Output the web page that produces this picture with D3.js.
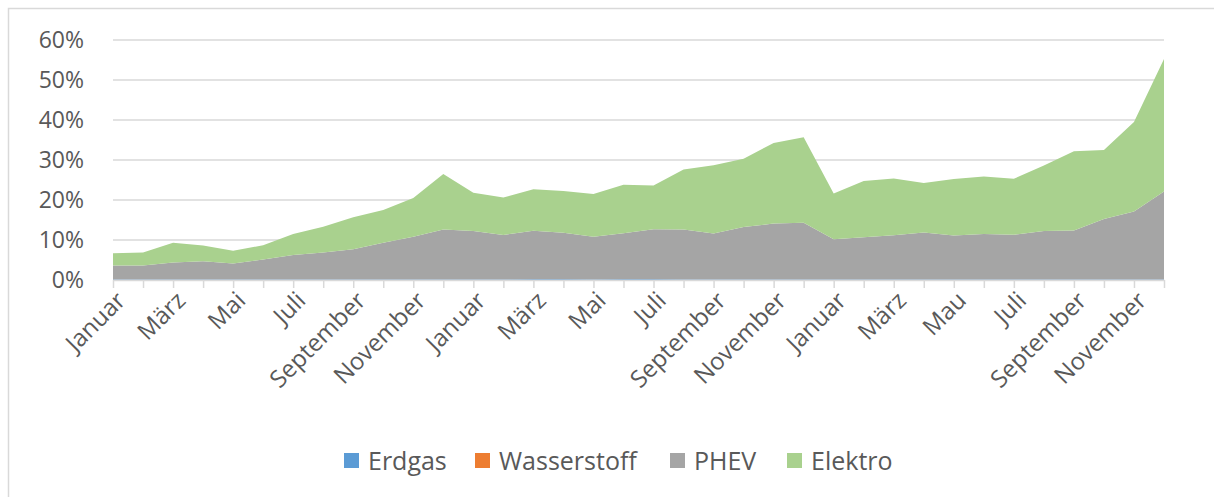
<!DOCTYPE html>
<html>
<head>
<meta charset="utf-8">
<script src="https://cdn.jsdelivr.net/npm/d3@7"></script>
<style>
  body { margin: 0; background: #fff; }
  svg text { font-family: "Open Sans", sans-serif; fill: #595959; }
</style>
</head>
<body>
<div id="chart"></div>
<script>
const months = [
  "Januar", "Februar", "März", "April", "Mai", "Juni", "Juli", "August", "September", "Oktober", "November", "Dezember",
  "Januar", "Februar", "März", "April", "Mai", "Juni", "Juli", "August", "September", "Oktober", "November", "Dezember",
  "Januar", "Februar", "März", "April", "Mau", "Juni", "Juli", "August", "September", "Oktober", "November", "Dezember"
];

// shares in percent
const erdgas = [0.1, 0.1, 0.1, 0.1, 0.1, 0.1, 0.1, 0.1, 0.1, 0.1, 0.1, 0.1,
  0.1, 0.1, 0.2, 0.2, 0.1, 0.2, 0.2, 0.1, 0.1, 0.1, 0.1, 0.1,
  0.1, 0.1, 0.1, 0.1, 0.1, 0.1, 0.1, 0.1, 0.1, 0.1, 0.1, 0.1];
const wasserstoff = [0, 0, 0, 0, 0, 0, 0, 0, 0, 0, 0, 0,
  0, 0, 0, 0, 0, 0, 0, 0, 0, 0, 0, 0,
  0, 0, 0, 0, 0, 0, 0, 0, 0, 0, 0, 0];
const phev = [3.5, 3.5, 4.3, 4.6, 4.0, 5.0, 6.15, 6.8, 7.6, 9.2, 10.7, 12.5,
  12.15, 11.15, 12.1, 11.6, 10.7, 11.5, 12.5, 12.5, 11.5, 13.15, 14.0, 14.2,
  10.1, 10.6, 11.1, 11.8, 11.0, 11.4, 11.2, 12.15, 12.3, 15.15, 17.0, 22.0];
const elektro = [3.1, 3.3, 4.9, 3.9, 3.2, 3.6, 5.25, 6.4, 8.0, 8.2, 9.7, 13.9,
  9.55, 9.35, 10.4, 10.45, 10.7, 12.1, 10.9, 15.0, 17.1, 17.05, 20.15, 21.4,
  11.4, 14.05, 14.2, 12.35, 14.15, 14.4, 14.0, 16.35, 19.8, 17.25, 22.4, 33.15];

const seriesNames = ["Erdgas", "Wasserstoff", "PHEV", "Elektro"];
const seriesColors = ["#5B9BD5", "#ED7D31", "#A5A5A5", "#A9D18E"];
const yTicks = [0, 10, 20, 30, 40, 50, 60];

const width = 1214, height = 497;
const plotLeft = 113, plotRight = 1164, plotTop = 40, plotBottom = 280;

const svg = d3.select("#chart").append("svg")
  .attr("width", width)
  .attr("height", height);

// chart border
svg.append("rect")
  .attr("x", 8.5).attr("y", 8.5)
  .attr("width", width + 10).attr("height", height + 10)
  .attr("fill", "none")
  .attr("stroke", "#d9d9d9")
  .attr("stroke-width", 1.5);

const table = months.map((m, i) => ({
  idx: i,
  Erdgas: erdgas[i],
  Wasserstoff: wasserstoff[i],
  PHEV: phev[i],
  Elektro: elektro[i]
}));

let xScale = d3.scalePoint()
  .domain(months.map((m, i) => i))
  .range([plotLeft, plotRight]);

let yScale = d3.scaleLinear()
  .domain([0, 60])
  .range([plotBottom, plotTop]);

// gridlines
svg.append("g")
  .selectAll("line")
  .data(yTicks.slice(1))
  .enter().append("line")
  .attr("x1", plotLeft).attr("x2", plotRight)
  .attr("y1", d => yScale(d)).attr("y2", d => yScale(d))
  .attr("stroke", "#d9d9d9")
  .attr("stroke-width", 1.5);

const stacked = d3.stack().keys(seriesNames)(table);

const area = d3.area()
  .x(d => xScale(d.data.idx))
  .y0(d => yScale(d[0]))
  .y1(d => yScale(d[1]));

svg.append("g")
  .selectAll("path")
  .data(stacked)
  .enter().append("path")
  .attr("fill", (d, i) => seriesColors[i])
  .attr("d", area);

// x axis
const xAxis = svg.append("g")
  .attr("transform", "translate(0," + plotBottom + ")")
  .call(d3.axisBottom(xScale).tickSize(8).tickSizeOuter(0).tickFormat(""));
xAxis.select(".domain").attr("stroke", "#d9d9d9").attr("stroke-width", 1.5);
xAxis.selectAll(".tick line").attr("stroke", "#d9d9d9").attr("stroke-width", 1.5);

svg.append("g")
  .selectAll("text")
  .data(table.filter(d => d.idx % 2 === 0))
  .enter().append("text")
  .attr("transform", d => "translate(" + (xScale(d.idx) + 8) + "," + (plotBottom + 16) + ") rotate(-45)")
  .attr("text-anchor", "end")
  .attr("dy", "0.35em")
  .style("font-size", "24px")
  .text(d => months[d.idx]);

// y axis labels
svg.append("g")
  .selectAll("text")
  .data(yTicks)
  .enter().append("text")
  .attr("x", 84)
  .attr("y", d => yScale(d))
  .attr("dy", "0.36em")
  .attr("text-anchor", "end")
  .style("font-size", "23px")
  .text(d => d + "%");

// legend
const legendX = [344, 475, 670, 787];
const legend = svg.append("g")
  .selectAll("g")
  .data(seriesNames)
  .enter().append("g")
  .attr("transform", (d, i) => "translate(" + legendX[i] + ",461)");
legend.append("rect")
  .attr("x", 0).attr("y", -8)
  .attr("width", 15).attr("height", 15)
  .attr("fill", (d, i) => seriesColors[i]);
legend.append("text")
  .attr("x", 24)
  .attr("dy", "0.35em")
  .style("font-size", "25px")
  .text(d => d);
</script>
</body>
</html>
